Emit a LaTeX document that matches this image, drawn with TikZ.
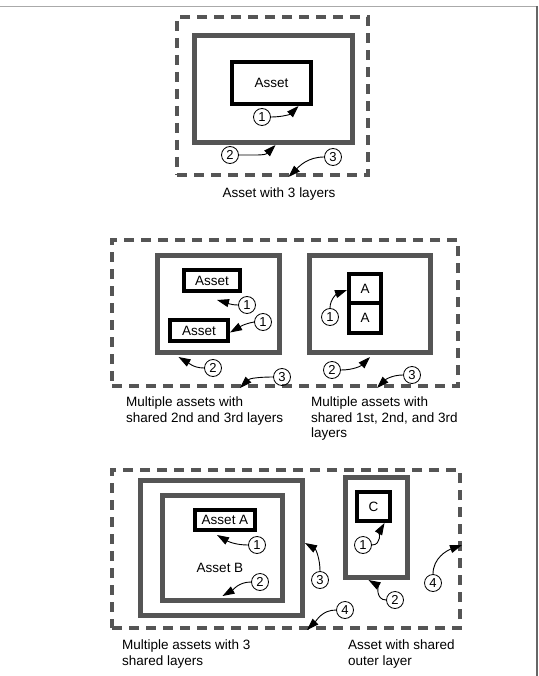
\documentclass[tikz,border=0pt]{standalone}
\usepackage{fontspec}
\setmainfont{Liberation Sans}
\usetikzlibrary{arrows.meta}
\definecolor{layergray}{HTML}{555555}
\definecolor{framegray}{HTML}{AAAAAA}
\definecolor{edgegray}{HTML}{666666}

\begin{document}
\begin{tikzpicture}[
    x=1pt, y=-1pt,
    outer/.style={rectangle, draw=layergray, line width=4pt, dash pattern=on 10pt off 7pt, inner sep=0pt},
    layer/.style={rectangle, draw=layergray, line width=5pt, inner sep=0pt},
    asset/.style={rectangle, draw=black, line width=4pt, inner sep=0pt, font=\fontsize{13.5}{15}\selectfont},
    num/.style={circle, draw, line width=0.8pt, minimum size=17pt, inner sep=0pt, font=\fontsize{13}{14}\selectfont},
    caption/.style={align=left, inner sep=0pt, font=\fontsize{13.5}{15.5}\selectfont},
    arrow/.style={-{Triangle[length=12pt,width=8pt]}, line width=0.9pt}
]
\useasboundingbox (0,0) rectangle (538,676);

% Page edges
\draw[framegray, line width=1.5pt] (0,6.5) -- (537,6.5);
\draw[edgegray, line width=2pt] (536.5,6) -- (536.5,676);

% Asset with 3 layers
\node[outer, minimum width=191pt, minimum height=158pt] (outerA) at (272.5,96) {};
\node[layer, minimum width=158pt, minimum height=107pt] (layerA) at (273.5,89) {};
\node[asset, minimum width=79pt, minimum height=42pt] (assetA) at (271.5,83) {Asset};
\node[num] (a1) at (262,117) {1};
\node[num] (a2) at (230,155) {2};
\node[num] (a3) at (333,157) {3};
\node[caption, anchor=base] (capA) at (279,197) {Asset with 3 layers};

\draw[arrow] (a1.east) to[out=0,in=225] ([xshift=27pt]assetA.south);
\draw[arrow] (a2.east) to[out=0,in=225] ([xshift=2pt]layerA.south);
\draw[arrow] (a3.west) to[out=180,in=45] ([xshift=16pt]outerA.south);

% Shared 2nd and 3rd layers / shared 1st, 2nd and 3rd layers
\node[outer, minimum width=346pt, minimum height=146pt] (outerB) at (285,313) {};
\node[layer, minimum width=122pt, minimum height=97pt] (layerB) at (218.5,304) {};
\node[asset, minimum width=56pt, minimum height=21pt] (assetBtop) at (212,280.5) {Asset};
\node[asset, minimum width=58pt, minimum height=21pt] (assetBbot) at (199,330.5) {Asset};
\node[layer, minimum width=121pt, minimum height=97pt] (layerC) at (370,304) {};
\node[asset, minimum width=32pt, minimum height=29pt] (assetCtop) at (365,288.5) {A};
\node[asset, minimum width=32pt, minimum height=30pt] (assetCbot) at (365,318) {A};
\node[num] (b1a) at (247,305) {1};
\node[num] (b1b) at (263,322) {1};
\node[num] (b2) at (213,368) {2};
\node[num] (b3) at (282,377) {3};
\node[num] (c1) at (330,317) {1};
\node[num] (c2) at (332,370) {2};
\node[num] (c3) at (412,375) {3};
\node[caption, anchor=north west] (capB) at (126,397) {Multiple assets with\\shared 2nd and 3rd layers};
\node[caption, anchor=north west] (capC) at (311,397) {Multiple assets with\\shared 1st, 2nd, and 3rd\\layers};

\draw[arrow] (b1a.west) to[out=180,in=-15] ([xshift=5pt,yshift=-7pt]assetBtop.south);
\draw[arrow] (b1b.west) to[out=190,in=30] ([yshift=-2pt]assetBbot.east);
\draw[arrow] (b2.west) to[out=180,in=-30] ([xshift=-40pt,yshift=-2pt]layerB.south);
\draw[arrow] (b3.west) to[out=180,in=45] ([xshift=-45pt]outerB.south);
\draw[arrow] (c1.north) to[out=90,in=200] ([yshift=-1.5pt]assetCtop.west);
\draw[arrow] (c2.east) to[out=0,in=225] ([yshift=-2pt]layerC.south);
\draw[arrow] (c3.west) to[out=180,in=45] ([xshift=92pt]outerB.south);

% Shared layers / shared outer layer
\node[outer, minimum width=348pt, minimum height=158pt] (outerD) at (286,549) {};
\node[layer, minimum width=162pt, minimum height=135pt] (layerDout) at (221.5,548) {};
\node[layer, minimum width=120pt, minimum height=105pt] (layerDin) at (222.5,548) {};
\node[asset, minimum width=60pt, minimum height=20pt] (assetD) at (225,520) {Asset A};
\node[inner sep=0pt, font=\fontsize{13.5}{15}\selectfont] (labelD) at (220,568) {Asset B};
\node[layer, minimum width=62pt, minimum height=100pt] (layerE) at (376.5,527.5) {};
\node[asset, minimum width=33pt, minimum height=29pt] (assetE) at (373.5,506.5) {C};
\node[num] (d1) at (257,545) {1};
\node[num] (d2) at (260,582) {2};
\node[num] (d3) at (320,580) {3};
\node[num] (d4) at (345,610) {4};
\node[num] (e1) at (363,545) {1};
\node[num] (e2) at (395,600) {2};
\node[num] (e4) at (433,583) {4};
\node[caption, anchor=north west] (capD) at (122,640) {Multiple assets with 3\\shared layers};
\node[caption, anchor=north west] (capE) at (348,640) {Asset with shared\\outer layer};

\draw[arrow] (d1.west) to[out=180,in=-30] ([xshift=-8pt,yshift=-3pt]assetD.south);
\draw[arrow] (d2.west) to[out=180,in=30] ([yshift=7pt]layerDin.south);
\draw[arrow] (d3.north) to[out=90,in=-30] ([yshift=5pt]layerDout.east);
\draw[arrow] (d4.west) to[out=180,in=45] ([xshift=21pt]outerD.south);
\draw[arrow] (e1.east) to[out=0,in=240] ([xshift=11pt]assetE.south);
\draw[arrow] (e2.west) to[out=180,in=-30] ([xshift=-8pt]layerE.south);
\draw[arrow] (e4.north) to[out=90,in=200] ([yshift=4pt]outerD.east);

\end{tikzpicture}
\end{document}
